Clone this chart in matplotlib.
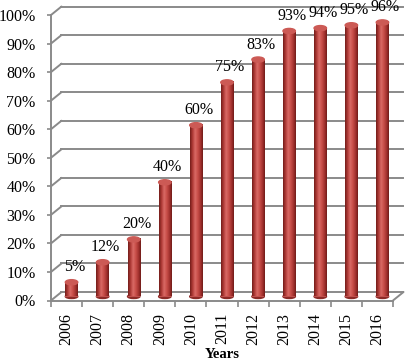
import numpy as np
import matplotlib
matplotlib.use("Agg")
import matplotlib.pyplot as plt
from matplotlib.transforms import offset_copy
from matplotlib.patches import ConnectionPatch, Ellipse
from matplotlib.colors import LinearSegmentedColormap

years = ["2006", "2007", "2008", "2009", "2010", "2011", "2012", "2013", "2014", "2015", "2016"]
values = [5, 12, 20, 40, 60, 75, 83, 93, 94, 95, 96]
labels = ["5%", "12%", "20%", "40%", "60%", "75%", "83%", "93%", "94%", "95%", "96%"]
yticks = [0, 10, 20, 30, 40, 50, 60, 70, 80, 90, 100]
ytick_labels = ["0%", "10%", "20%", "30%", "40%", "50%", "60%", "70%", "80%", "90%", "100%"]

plt.rcParams['font.family'] = ['Liberation Serif', 'DejaVu Serif']
gray = "#8a8a8a"

fig = plt.figure(figsize=(4.1, 3.62), dpi=100)
ax = fig.add_axes([51/410, (362-300.5)/362, 342/410, 285.5/362])

x = np.arange(len(years))

# depth offsets for the fake 3D look (pixels)
back = offset_copy(ax.transData, fig=fig, x=10.5, y=8.5, units='dots')
mid = offset_copy(ax.transData, fig=fig, x=5, y=4, units='dots')

# back wall grid + side stubs
for t in yticks:
    ax.plot([-0.5, 10.5], [t, t], transform=back, color=gray, lw=1.4, clip_on=False, zorder=1)
    con = ConnectionPatch((-0.5, t), (-0.5, t), coordsA=ax.transData, coordsB=back,
                          color=gray, lw=1.4, zorder=1)
    ax.add_artist(con)
# floor right edge
con = ConnectionPatch((10.5, 0), (10.5, 0), coordsA=ax.transData, coordsB=back,
                      color=gray, lw=1.4, zorder=1)
ax.add_artist(con)

# cylinder bars
cyl = LinearSegmentedColormap.from_list("cyl", [(0, "#741d1a"), (0.2, "#b03b37"), (0.4, "#d96a65"),
                                                (0.6, "#c94f4a"), (0.85, "#9e2e2b"), (1, "#701c19")])
grad = np.linspace(0, 1, 64).reshape(1, -1)
w = 0.40
bars = ax.bar(x, values, width=w, transform=mid, color="#c0504d", zorder=3, clip_on=False)
for b, xi, v in zip(bars, x, values):
    ax.add_patch(Ellipse((xi, 0), w, 1.4, transform=mid, color="#8c2a27", zorder=2.9, clip_on=False))
    im = ax.imshow(grad, extent=(xi - w/2, xi + w/2, 0, v), transform=mid, cmap=cyl,
                   aspect='auto', zorder=3.1, clip_on=False)
    im.set_clip_path(b)
    ax.add_patch(Ellipse((xi, v), w, 1.8, transform=mid, color="#cc5a55", zorder=3.2, clip_on=False))

for xi, v, lab in zip(x, values, labels):
    ax.annotate(lab, (xi, v), xycoords=mid, xytext=(3, 15), textcoords='offset pixels',
                ha='center', va='center', fontsize=11.5)

ax.set_xlim(-0.5, 10.5)
ax.set_ylim(0, 100)
ax.set_yticks(yticks)
ax.set_yticklabels(ytick_labels, fontsize=11.5)
ax.set_xticks(x)
ax.set_xticklabels(years, rotation=90, fontsize=11.5)
ax.set_xticks(np.arange(-0.5, 11, 1), minor=True)
ax.tick_params(axis='x', which='major', length=0, pad=9)
ax.tick_params(axis='x', which='minor', length=4, color=gray, width=1.2)
ax.tick_params(axis='y', length=3, color=gray, width=1.2, pad=8)
ax.set_xlabel("Years", fontsize=10.5, fontweight='bold', labelpad=2)

for s in ['top', 'right']:
    ax.spines[s].set_visible(False)
for s in ['left', 'bottom']:
    ax.spines[s].set_color(gray)
    ax.spines[s].set_linewidth(1.4)
ax.patch.set_visible(False)

fig.savefig("out.png", dpi=100)
